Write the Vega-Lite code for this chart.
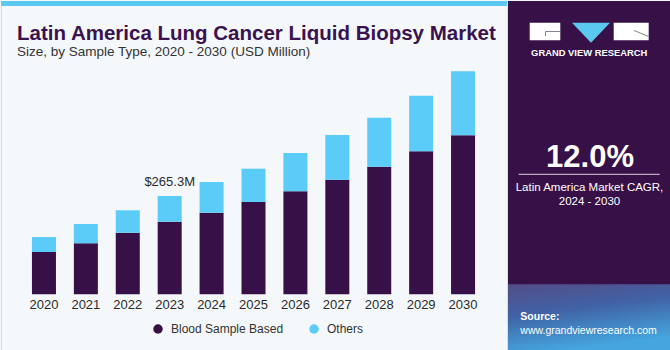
{
  "$schema": "https://vega.github.io/schema/vega-lite/v6.json",
  "background": "#F4F8FB",
  "padding": 0,
  "spacing": 0,
  "config": {
    "font": "Liberation Sans",
    "concat": {"spacing": 0}
  },
  "datasets": {
    "market": [
      {"year": "2020", "segment": "Blood Sample Based", "value": 114.2},
      {"year": "2020", "segment": "Others", "value": 40.5},
      {"year": "2021", "segment": "Blood Sample Based", "value": 137.7},
      {"year": "2021", "segment": "Others", "value": 52.1},
      {"year": "2022", "segment": "Blood Sample Based", "value": 166.3},
      {"year": "2022", "segment": "Others", "value": 60.4},
      {"year": "2023", "segment": "Blood Sample Based", "value": 196.0},
      {"year": "2023", "segment": "Others", "value": 69.3},
      {"year": "2024", "segment": "Blood Sample Based", "value": 220.3},
      {"year": "2024", "segment": "Others", "value": 82.8},
      {"year": "2025", "segment": "Blood Sample Based", "value": 249.1},
      {"year": "2025", "segment": "Others", "value": 89.9},
      {"year": "2026", "segment": "Blood Sample Based", "value": 278.0},
      {"year": "2026", "segment": "Others", "value": 103.4},
      {"year": "2027", "segment": "Blood Sample Based", "value": 309.3},
      {"year": "2027", "segment": "Others", "value": 120.7},
      {"year": "2028", "segment": "Blood Sample Based", "value": 344.4},
      {"year": "2028", "segment": "Others", "value": 132.3},
      {"year": "2029", "segment": "Blood Sample Based", "value": 386.0},
      {"year": "2029", "segment": "Others", "value": 150.0},
      {"year": "2030", "segment": "Blood Sample Based", "value": 429.2},
      {"year": "2030", "segment": "Others", "value": 172.7}
    ],
    "annotation": [
      {"year": "2023", "total": 265.3, "label": "$265.3M"}
    ]
  },
  "hconcat": [
    {
      "width": 506,
      "height": 350,
      "view": {"fill": "#F4F8FB", "stroke": "#D6DCE2"},
      "title": {
        "text": "Latin America Lung Cancer Liquid Biopsy Market",
        "subtitle": "Size, by Sample Type, 2020 - 2030 (USD Million)",
        "anchor": "start",
        "frame": "group",
        "orient": "top",
        "offset": -57,
        "dx": 16,
        "font": "Liberation Sans",
        "fontSize": 20.5,
        "fontWeight": "bold",
        "color": "#3A1250",
        "subtitleFont": "Liberation Sans",
        "subtitleFontSize": 13.5,
        "subtitleColor": "#333333",
        "subtitlePadding": 0
      },
      "layer": [
        {
          "data": {"name": "annotation"},
          "mark": {"type": "rect", "color": "#5BC8F0"},
          "encoding": {
            "x": {"value": 0},
            "x2": {"value": 506},
            "y": {"value": 0},
            "y2": {"value": 5}
          }
        },
        {
          "data": {"name": "market"},
          "mark": {"type": "bar"},
          "encoding": {
            "x": {
              "field": "year",
              "type": "ordinal",
              "axis": null,
              "scale": {"range": [22, 483], "paddingInner": 0.427, "paddingOuter": 0.2135}
            },
            "y": {
              "field": "value",
              "type": "quantitative",
              "stack": "zero",
              "axis": null,
              "scale": {"domain": [0, 620], "range": [293.3, 63.6], "nice": false, "zero": true}
            },
            "color": {
              "field": "segment",
              "type": "nominal",
              "scale": {"domain": ["Blood Sample Based", "Others"], "range": ["#371047", "#5BCBF7"]},
              "legend": {
                "orient": "none",
                "legendX": 151,
                "legendY": 322,
                "direction": "horizontal",
                "title": null,
                "symbolType": "circle",
                "symbolSize": 90,
                "symbolOpacity": 1,
                "symbolStrokeWidth": 0,
                "labelFont": "Liberation Sans",
                "labelFontSize": 12,
                "labelColor": "#333333",
                "labelOffset": 7,
                "columnPadding": 24
              }
            },
            "order": {"field": "segment", "sort": "ascending"}
          }
        },
        {
          "data": {"name": "market"},
          "transform": [{"filter": "datum.segment === 'Blood Sample Based'"}],
          "mark": {"type": "text", "dy": 15, "baseline": "alphabetic", "align": "center", "fontSize": 13, "color": "#2B2B2B"},
          "encoding": {
            "x": {"field": "year", "type": "ordinal"},
            "y": {"datum": 0},
            "text": {"field": "year"}
          }
        },
        {
          "data": {"name": "annotation"},
          "mark": {"type": "text", "dy": -10, "baseline": "alphabetic", "align": "center", "fontSize": 13, "color": "#2B2B2B"},
          "encoding": {
            "x": {"field": "year", "type": "ordinal"},
            "y": {"field": "total", "type": "quantitative"},
            "text": {"field": "label"}
          }
        }
      ]
    },
    {
      "width": 164,
      "height": 350,
      "view": {"fill": "#371047", "stroke": null},
      "data": {"values": [{"panel": "Grand View Research"}]},
      "layer": [
        {
          "mark": {"type": "rect", "color": {"gradient": "linear", "x1": 0, "y1": 0, "x2": 0.3, "y2": 1, "stops": [{"offset": 0, "color": "#544C88"}, {"offset": 0.45, "color": "#4063A6"}, {"offset": 1, "color": "#45A6DF"}]}},
          "encoding": {"x": {"value": 0}, "x2": {"value": 164}, "y": {"value": 283.3}, "y2": {"value": 350}}
        },
        {
          "mark": {"type": "rect", "color": "#FFFFFF"},
          "encoding": {"x": {"value": 21.7}, "x2": {"value": 52.3}, "y": {"value": 21.7}, "y2": {"value": 39.3}}
        },
        {
          "mark": {"type": "rect", "color": "#FFFFFF"},
          "encoding": {"x": {"value": 105.7}, "x2": {"value": 140.7}, "y": {"value": 21.7}, "y2": {"value": 39.3}}
        },
        {
          "mark": {"type": "rule", "color": "#8A7F99", "strokeWidth": 1},
          "encoding": {"x": {"value": 37.5}, "x2": {"value": 52.3}, "y": {"value": 30.5}, "y2": {"value": 30.5}}
        },
        {
          "mark": {"type": "rule", "color": "#8A7F99", "strokeWidth": 1},
          "encoding": {"x": {"value": 37.5}, "x2": {"value": 37.5}, "y": {"value": 30.5}, "y2": {"value": 35}}
        },
        {
          "mark": {"type": "rule", "color": "#8A7F99", "strokeWidth": 1},
          "encoding": {"x": {"value": 126}, "x2": {"value": 140.7}, "y": {"value": 29.5}, "y2": {"value": 35.5}}
        },
        {
          "mark": {"type": "point", "shape": "M-1,-0.53L1,-0.53L0,0.53Z", "filled": true, "opacity": 1, "color": "#5BC8F0", "size": 1444, "strokeWidth": 0},
          "encoding": {"x": {"value": 83}, "y": {"value": 31.7}}
        },
        {
          "mark": {"type": "text", "text": "GRAND VIEW RESEARCH", "align": "center", "baseline": "alphabetic", "fontSize": 9.4, "fontWeight": "bold", "color": "#FFFFFF"},
          "encoding": {"x": {"value": 81.2}, "y": {"value": 54.5}}
        },
        {
          "mark": {"type": "text", "text": "12.0%", "align": "center", "baseline": "alphabetic", "fontSize": 31, "fontWeight": "bold", "color": "#FFFFFF"},
          "encoding": {"x": {"value": 82}, "y": {"value": 165.7}}
        },
        {
          "mark": {"type": "rule", "color": "#D9D3E0", "strokeWidth": 1},
          "encoding": {"x": {"value": 10.7}, "x2": {"value": 151.7}, "y": {"value": 173.3}, "y2": {"value": 173.3}}
        },
        {
          "mark": {"type": "text", "text": "Latin America Market CAGR,", "align": "center", "baseline": "alphabetic", "fontSize": 11.5, "color": "#FFFFFF"},
          "encoding": {"x": {"value": 81.5}, "y": {"value": 190}}
        },
        {
          "mark": {"type": "text", "text": "2024 - 2030", "align": "center", "baseline": "alphabetic", "fontSize": 11.5, "color": "#FFFFFF"},
          "encoding": {"x": {"value": 81.5}, "y": {"value": 204.3}}
        },
        {
          "mark": {"type": "text", "text": "Source:", "align": "left", "baseline": "alphabetic", "fontSize": 10.5, "fontWeight": "bold", "color": "#FFFFFF"},
          "encoding": {"x": {"value": 12.3}, "y": {"value": 319.3}}
        },
        {
          "mark": {"type": "text", "text": "www.grandviewresearch.com", "align": "left", "baseline": "alphabetic", "fontSize": 10.5, "color": "#FFFFFF"},
          "encoding": {"x": {"value": 12.3}, "y": {"value": 333}}
        }
      ]
    }
  ]
}
